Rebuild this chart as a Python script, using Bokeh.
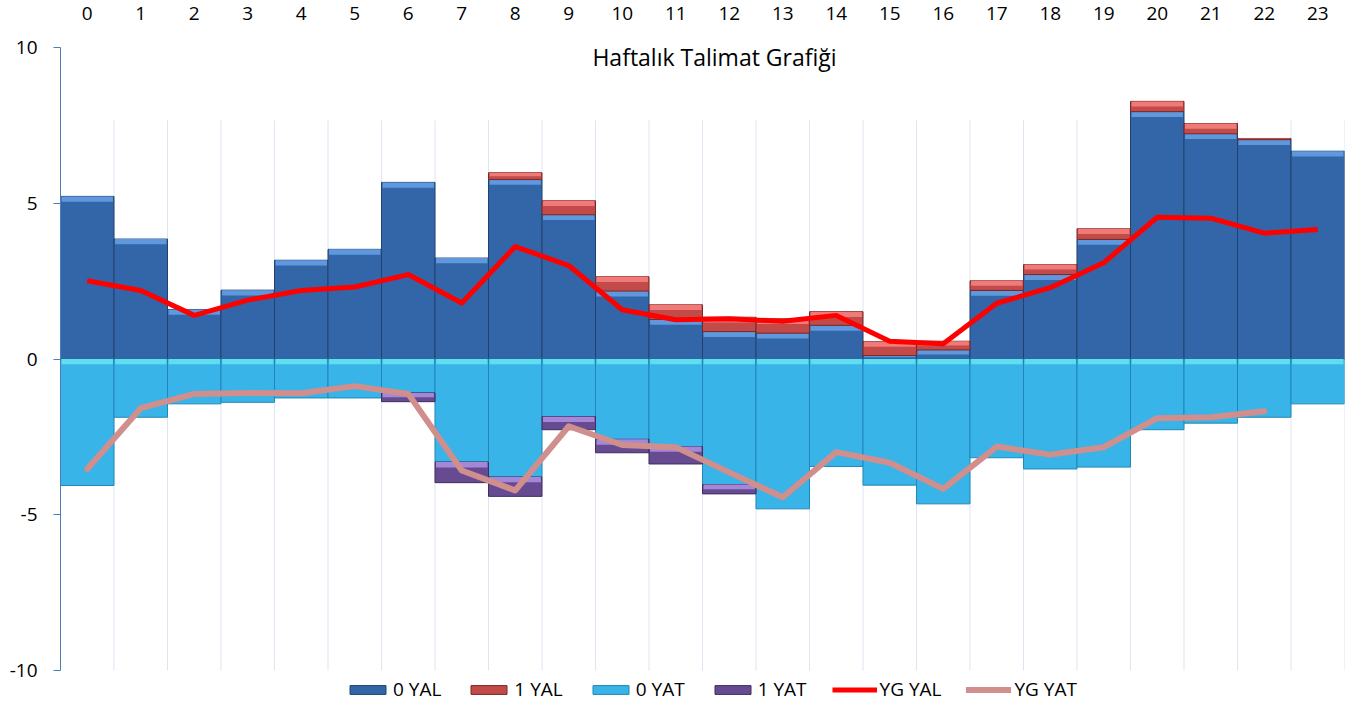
import numpy as np
from math import pi
from bokeh.plotting import figure
from bokeh.models import (Range1d, LinearAxis, FixedTicker, Label, Legend,
                          LegendItem, ColumnDataSource)
from bokeh.embed import file_html
from bokeh.resources import INLINE

# ---------------- data (GWh) ----------------
hours = list(range(24))
yal_0 = [5.22, 3.85, 1.59, 2.21, 3.17, 3.52, 5.67, 3.24, 5.76, 4.63, 2.18, 1.27,
         0.88, 0.83, 1.08, 0.11, 0.29, 2.20, 2.71, 3.84, 7.94, 7.23, 7.04, 6.67]
yal_1 = [0, 0, 0, 0, 0, 0, 0, 0, 0.22, 0.45, 0.46, 0.47,
         0.46, 0.46, 0.44, 0.45, 0.28, 0.31, 0.32, 0.34, 0.33, 0.33, 0.04, 0]
yat_0 = [-4.06, -1.87, -1.44, -1.39, -1.25, -1.25, -1.09, -3.31, -3.79, -1.85, -2.58, -2.81,
         -4.03, -4.81, -3.45, -4.05, -4.65, -3.17, -3.53, -3.47, -2.27, -2.06, -1.87, -1.44]
yat_1 = [0, 0, 0, 0, 0, 0, -0.28, -0.66, -0.62, -0.42, -0.43, -0.56,
         -0.30, 0, 0, 0, 0, 0, 0, 0, 0, 0, 0, 0]
yg_yal = [2.51, 2.20, 1.40, 1.89, 2.20, 2.31, 2.71, 1.80, 3.61, 3.00, 1.58, 1.26,
          1.29, 1.21, 1.40, 0.57, 0.49, 1.79, 2.29, 3.09, 4.55, 4.52, 4.04, 4.16]
yg_yat = [-3.53, -1.58, -1.12, -1.09, -1.10, -0.87, -1.12, -3.58, -4.22, -2.16, -2.76, -2.83,
          -3.64, -4.44, -2.99, -3.33, -4.17, -2.81, -3.07, -2.83, -1.90, -1.87, -1.68, np.nan]
y_ticks = [-10, -5, 0, 5, 10]
y_tick_labels = {-10: "-10", -5: "-5", 0: "0", 5: "5", 10: "10"}
title_text = "Haftalık Talimat Grafiği"
y_label = "GWh"

# ---------------- derived stacks ----------------
x = np.array(hours, dtype=float)
a0 = np.array(yal_0); a1 = np.array(yal_1)
b0 = np.array(yat_0); b1 = np.array(yat_1)
nan = np.nan
yal1_bot = np.where(a1 > 0, a0, nan); yal1_top = np.where(a1 > 0, a0 + a1, nan)
yat1_top = np.where(b1 < 0, b0, nan); yat1_bot = np.where(b1 < 0, b0 + b1, nan)

BEV = 0.17
def bevel(top, h):
    return top - np.minimum(BEV, np.abs(h) * 0.5)

src = ColumnDataSource(dict(
    x=x,
    yal0=a0, yal0_bev=bevel(a0, a0),
    yal1_bot=yal1_bot, yal1_top=yal1_top, yal1_bev=bevel(yal1_top, a1),
    yat0=b0, yat0_bev=-np.minimum(BEV, np.abs(b0) * 0.5),
    yat1_top=yat1_top, yat1_bot=yat1_bot, yat1_bev=bevel(yat1_top, b1),
    ygyal=np.array(yg_yal), ygyat=np.array(yg_yat),
))

FONT = "Open Sans"
PX = 31.15          # pixels per GWh in the reference
W_FIG, H_FIG = 1350, 704
LEFT, TOP, RIGHT = 60, 47, 6
y_end = 10.0
y_start = -10 - (H_FIG - TOP - 20 * PX) / PX

p = figure(width=W_FIG, height=H_FIG, x_range=Range1d(-0.5, 23.5),
           y_range=Range1d(y_start, y_end),
           output_backend="svg", toolbar_location=None,
           x_axis_location=None, y_axis_location=None,
           min_border_left=LEFT, min_border_right=RIGHT, min_border_top=TOP,
           min_border_bottom=0)
p.outline_line_color = None
p.background_fill_color = "white"
p.xgrid.visible = False
p.ygrid.visible = False

# axes
yax = LinearAxis(ticker=FixedTicker(ticks=y_ticks), bounds=(-10, 10),
                 axis_line_color="#4A7EBB", major_tick_line_color="#4A7EBB",
                 major_tick_out=7, major_tick_in=0, minor_tick_line_color=None,
                 major_label_standoff=16, major_label_text_font=FONT,
                 major_label_overrides=y_tick_labels,
                 major_label_text_font_size="19px", major_label_text_color="#000000")
p.add_layout(yax, "left")
xax = LinearAxis(ticker=FixedTicker(ticks=hours), axis_line_color=None,
                 major_tick_line_color=None, minor_tick_line_color=None,
                 major_label_standoff=22, major_label_text_font=FONT,
                 major_label_text_font_size="19px", major_label_text_color="#000000")
p.add_layout(xax, "above")

# vertical grid lines at category boundaries
bounds = x + 0.5
p.segment(x0=bounds, y0=-10, x1=bounds, y1=7.66, line_color="#DCE6F2", line_width=1)

W = 1.0
IW = 0.96
r_yal0 = p.vbar(x="x", width=W, bottom=0, top="yal0", source=src,
                fill_color="#3366A8", line_color="#22426E", line_width=1)
p.vbar(x="x", width=IW, bottom="yal0_bev", top="yal0", source=src,
       fill_color="#5F98DC", line_color=None)
r_yal1 = p.vbar(x="x", width=W, bottom="yal1_bot", top="yal1_top", source=src,
                fill_color="#C24A48", line_color="#7A2826", line_width=1)
p.vbar(x="x", width=IW, bottom="yal1_bev", top="yal1_top", source=src,
       fill_color="#F07A78", line_color=None)
r_yat0 = p.vbar(x="x", width=W, bottom="yat0", top=0, source=src,
                fill_color="#38B4E8", line_color="#2187B6", line_width=1)
p.vbar(x="x", width=IW, bottom="yat0_bev", top=0, source=src,
       fill_color="#62DDF0", line_color=None)
r_yat1 = p.vbar(x="x", width=W, bottom="yat1_bot", top="yat1_top", source=src,
                fill_color="#664B93", line_color="#3F2D5E", line_width=1)
p.vbar(x="x", width=IW, bottom="yat1_bev", top="yat1_top", source=src,
       fill_color="#A587D8", line_color=None)

r_l1 = p.line(x="x", y="ygyal", source=src, line_color="#FF0000", line_width=5,
              line_join="round")
r_l2 = p.line(x="x", y="ygyat", source=src, line_color="#D08E8C", line_width=6,
              line_join="round", line_cap="round")

# title and y label
p.add_layout(Label(x=654, y=9.68, x_units="screen", y_units="data", text=title_text,
                   text_align="center", text_baseline="middle", text_font=FONT,
                   text_font_size="23px", text_color="#000000"))
p.add_layout(Label(x=-42, y=0, x_units="screen", y_units="data", text=y_label, angle=pi / 2,
                   text_align="center", text_baseline="middle", text_font=FONT,
                   text_font_size="18px", text_color="#000000"))

legend = Legend(items=[
    LegendItem(label="0 YAL", renderers=[r_yal0]),
    LegendItem(label="1 YAL", renderers=[r_yal1]),
    LegendItem(label="0 YAT", renderers=[r_yat0]),
    LegendItem(label="1 YAT", renderers=[r_yat1]),
    LegendItem(label="YG YAL", renderers=[r_l1]),
    LegendItem(label="YG YAT", renderers=[r_l2]),
], orientation="horizontal", location=(285, 2), glyph_width=45, glyph_height=11,
    label_standoff=3, spacing=25, padding=0, margin=0,
    background_fill_alpha=0, border_line_alpha=0,
    label_text_font=FONT, label_text_font_size="19px", label_text_color="#000000")
p.add_layout(legend)

open("out.html", "w").write(file_html(p, INLINE))
